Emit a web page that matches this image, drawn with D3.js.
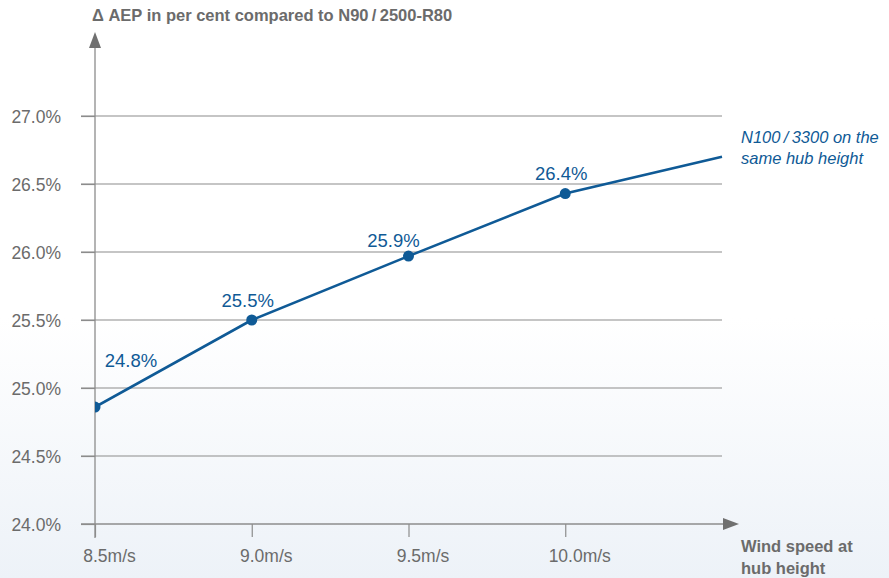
<!DOCTYPE html>
<html>
<head>
<meta charset="utf-8">
<script src="https://cdn.jsdelivr.net/npm/d3@7"></script>
<style>
  html, body { margin: 0; padding: 0; }
  body { width: 889px; height: 578px; overflow: hidden; }
  text { font-family: "Liberation Sans", Arial, sans-serif; }
</style>
</head>
<body>
<svg id="chart" width="889" height="578"></svg>
<script>
// wind speed (m/s) and AEP gain (%)
var windSpeed = [8.5, 9.0, 9.5, 10.0, 10.5];
var aepGain = [24.86, 25.5, 25.97, 26.43, 26.7];
var pointLabels = ["24.8%", "25.5%", "25.9%", "26.4%"];
var xTicks = [8.5, 9.0, 9.5, 10.0];
var yTicks = [24.0, 24.5, 25.0, 25.5, 26.0, 26.5, 27.0];

var blue = "#0f5a96";
var grey = "#8c8c8c";
var textGrey = "#6b6b6b";

var svg = d3.select("#chart");

// soft background fade
var defs = svg.append("defs");
var grad = defs.append("linearGradient")
    .attr("id", "bg").attr("x1", 0).attr("y1", 0).attr("x2", 0).attr("y2", 1);
grad.append("stop").attr("offset", "0.55").attr("stop-color", "#ffffff");
grad.append("stop").attr("offset", "1").attr("stop-color", "#edf2f8");
svg.append("rect").attr("width", 889).attr("height", 578).attr("fill", "url(#bg)");

var xScale = d3.scaleLinear().domain([8.5, 10.5]).range([95, 722]);
var yScale = d3.scaleLinear().domain([24.0, 27.0]).range([524, 116]);

// gridlines
svg.append("g")
    .selectAll("line")
    .data(yTicks.slice(1))
    .enter()
    .append("line")
    .attr("x1", 81)
    .attr("x2", 722)
    .attr("y1", function (d) { return yScale(d); })
    .attr("y2", function (d) { return yScale(d); })
    .attr("stroke", grey)
    .attr("stroke-width", 1.2);

// y axis
var yAxis = svg.append("g")
    .attr("transform", "translate(95,0)")
    .call(d3.axisLeft(yScale).tickValues(yTicks).tickSize(14)
        .tickFormat(function (d) { return d3.format(".1f")(d) + "%"; }));
yAxis.select(".domain").remove();
yAxis.selectAll("line").attr("stroke", grey).attr("stroke-width", 1.2);
yAxis.selectAll("text")
    .attr("x", -34)
    .attr("dy", "0.36em")
    .attr("fill", textGrey)
    .style("font-size", "17.5px");

svg.append("line")
    .attr("x1", 95).attr("x2", 95).attr("y1", 46).attr("y2", 538)
    .attr("stroke", grey).attr("stroke-width", 1.3);
svg.append("path")
    .attr("d", "M95,32 L101,48 L89,48 Z")
    .attr("fill", "#707070");

// x axis
var xAxis = svg.append("g")
    .attr("transform", "translate(0,524)")
    .call(d3.axisBottom(xScale).tickValues(xTicks).tickSize(13)
        .tickFormat(function (d) { return d3.format(".1f")(d) + "m/s"; }));
xAxis.select(".domain").remove();
xAxis.selectAll("line").attr("stroke", grey).attr("stroke-width", 1.2);
xAxis.selectAll("text")
    .attr("y", 26)
    .attr("dx", 14)
    .attr("fill", textGrey)
    .style("font-size", "17.5px");

svg.append("line")
    .attr("x1", 81).attr("x2", 725).attr("y1", 524).attr("y2", 524)
    .attr("stroke", grey).attr("stroke-width", 1.3);
svg.append("path")
    .attr("d", "M739,524 L723,518 L723,530 Z")
    .attr("fill", "#707070");

// series, clipped at the y axis
defs.append("clipPath").attr("id", "plotClip")
    .append("rect").attr("x", 95).attr("y", 0).attr("width", 700).attr("height", 578);

var series = windSpeed.map(function (d, i) { return { x: d, y: aepGain[i] }; });

var lineFn = d3.line()
    .x(function (d) { return xScale(d.x); })
    .y(function (d) { return yScale(d.y); });

var plot = svg.append("g").attr("clip-path", "url(#plotClip)");
plot.append("path")
    .datum(series)
    .attr("d", lineFn)
    .attr("fill", "none")
    .attr("stroke", blue)
    .attr("stroke-width", 2.6);

plot.selectAll("circle")
    .data(series.slice(0, pointLabels.length))
    .enter()
    .append("circle")
    .attr("cx", function (d) { return xScale(d.x); })
    .attr("cy", function (d) { return yScale(d.y); })
    .attr("r", 5.5)
    .attr("fill", blue);

// value labels (first one sits to the right, above the line)
var labelDx = [36, -4, -15, -4];
var labelDy = [-40, -13, -9, -14];
svg.append("g")
    .selectAll("text")
    .data(series.slice(0, pointLabels.length))
    .enter()
    .append("text")
    .attr("x", function (d, i) { return xScale(d.x) + labelDx[i]; })
    .attr("y", function (d, i) { return yScale(d.y) + labelDy[i]; })
    .attr("text-anchor", "middle")
    .attr("fill", blue)
    .style("font-size", "18.5px")
    .text(function (d, i) { return pointLabels[i]; });

// titles
svg.append("text")
    .attr("x", 92).attr("y", 21)
    .attr("fill", textGrey)
    .style("font-size", "16.5px")
    .style("font-weight", "bold")
    .text("Δ AEP in per cent compared to N90\u2009/\u20092500-R80");

var xTitle = svg.append("text")
    .attr("fill", textGrey)
    .style("font-size", "16.5px")
    .style("font-weight", "bold");
xTitle.append("tspan").attr("x", 741).attr("y", 552).text("Wind speed at");
xTitle.append("tspan").attr("x", 741).attr("y", 574).text("hub height");

var note = svg.append("text")
    .attr("fill", blue)
    .style("font-size", "16.5px")
    .style("font-style", "italic");
note.append("tspan").attr("x", 741).attr("y", 143).text("N100\u2009/\u20093300 on the");
note.append("tspan").attr("x", 741).attr("y", 164).text("same hub height");
</script>
</body>
</html>
